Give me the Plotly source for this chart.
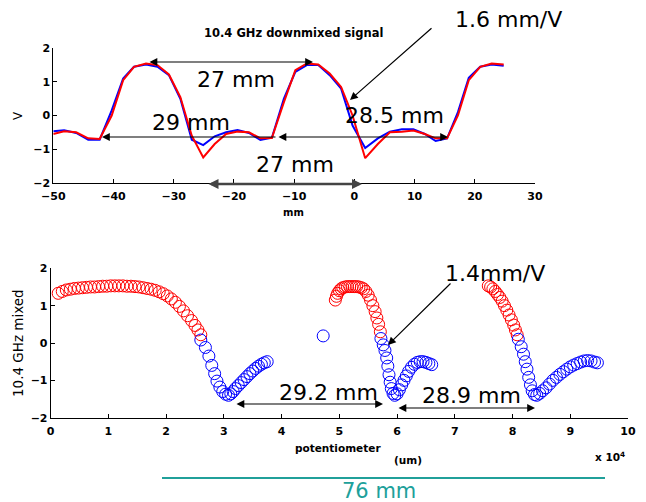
import plotly.graph_objects as go

W, H = 646, 502

# ---------------- top panel data (mm, V) ----------------
top_x = [-50, -48.2, -46.2, -44.2, -42.3, -40.3, -38.4, -36.6, -34.6, -32.7, -30.8, -28.9,
         -27.0, -25.1, -23.2, -21.3, -19.4, -17.5, -15.6, -13.7, -11.7, -9.8, -7.9, -6.0,
         -4.1, -2.2, -0.3, 1.8, 3.9, 5.9, 7.9, 9.8, 11.7, 13.5, 15.4, 17.2, 19.0, 20.9, 22.8, 24.8]
top_blue = [-0.47, -0.44, -0.52, -0.72, -0.72, 0.15, 1.1, 1.45, 1.52, 1.45, 1.2, 0.5,
            -0.72, -0.88, -0.62, -0.5, -0.43, -0.52, -0.73, -0.66, 0.5, 1.3, 1.5, 1.5,
            1.2, 0.8, -0.3, -0.97, -0.68, -0.48, -0.41, -0.41, -0.55, -0.76, -0.68, 0.1, 1.12, 1.45, 1.52, 1.48]
top_red = [-0.55, -0.47, -0.5, -0.68, -0.7, 0.0, 1.05, 1.45, 1.55, 1.5, 1.22, 0.55,
           -0.6, -1.25, -0.85, -0.55, -0.48, -0.5, -0.68, -0.67, 0.4, 1.35, 1.55, 1.52,
           1.25, 0.85, 0.0, -1.27, -0.85, -0.5, -0.48, -0.45, -0.55, -0.68, -0.68, 0.0, 1.05, 1.45, 1.55, 1.52]

# ---------------- bottom panel data (x 1e4 um, V) ----------------
red1_x = [0.13, 0.2, 0.27, 0.34, 0.41, 0.48, 0.55, 0.62, 0.69, 0.76, 0.83, 0.9, 0.97, 1.04, 1.11,
          1.18, 1.25, 1.32, 1.39, 1.46, 1.53, 1.6, 1.67, 1.74, 1.81, 1.88, 1.95, 2.02, 2.09, 2.16,
          2.23, 2.3, 2.37, 2.44, 2.5, 2.55, 2.6]
red1_y = [1.33, 1.38, 1.42, 1.44, 1.46, 1.47, 1.48, 1.49, 1.5, 1.5, 1.51, 1.52, 1.52, 1.53, 1.53,
          1.53, 1.53, 1.52, 1.52, 1.51, 1.5, 1.48, 1.46, 1.44, 1.41, 1.37, 1.32, 1.26, 1.18, 1.09,
          0.98, 0.86, 0.73, 0.6, 0.47, 0.35, 0.22]
blue1_x = [2.6, 2.68, 2.74, 2.79, 2.84, 2.88, 2.93, 2.98, 3.03, 3.08, 3.12, 3.16, 3.2, 3.25, 3.3,
           3.35, 3.4, 3.45, 3.5, 3.55, 3.6, 3.65, 3.7, 3.75]
blue1_y = [0.08, -0.12, -0.35, -0.6, -0.82, -1.02, -1.18, -1.3, -1.37, -1.4, -1.36, -1.3, -1.22,
           -1.14, -1.06, -0.98, -0.9, -0.82, -0.75, -0.68, -0.62, -0.57, -0.53, -0.5]
lone_x = [4.72]
lone_y = [0.19]
red2_x = [4.93, 4.95, 4.97, 5.0, 5.03, 5.06, 5.1, 5.14, 5.18, 5.22, 5.26, 5.3, 5.34, 5.38, 5.42,
          5.46, 5.5, 5.54, 5.58, 5.62, 5.65, 5.68, 5.71]
red2_y = [1.15, 1.25, 1.33, 1.4, 1.45, 1.48, 1.5, 1.51, 1.51, 1.51, 1.51, 1.51, 1.5, 1.48, 1.45,
          1.38, 1.28, 1.15, 1.0, 0.84, 0.67, 0.5, 0.3]
blue2_x = [5.72, 5.76, 5.79, 5.82, 5.84, 5.86, 5.88, 5.9, 5.93, 5.96, 6.0, 6.04, 6.08, 6.12, 6.16,
           6.2, 6.25, 6.3, 6.35, 6.4, 6.45, 6.5, 6.55, 6.6]
blue2_y = [0.12, -0.05, -0.2, -0.4, -0.62, -0.85, -1.05, -1.22, -1.35, -1.4, -1.36, -1.25, -1.12,
           -1.0, -0.88, -0.76, -0.65, -0.57, -0.52, -0.5, -0.5, -0.52, -0.55, -0.58]
red3_x = [7.58, 7.62, 7.66, 7.7, 7.74, 7.78, 7.82, 7.86, 7.9, 7.94, 7.98, 8.02, 8.05, 8.08]
red3_y = [1.53, 1.5, 1.45, 1.38, 1.3, 1.22, 1.12, 1.0, 0.88, 0.75, 0.62, 0.48, 0.35, 0.22]
blue3_x = [8.1, 8.15, 8.19, 8.22, 8.25, 8.28, 8.31, 8.34, 8.38, 8.42, 8.47, 8.52, 8.58, 8.64, 8.7,
           8.76, 8.82, 8.88, 8.94, 9.0, 9.06, 9.12, 9.18, 9.24, 9.3, 9.36, 9.42, 9.47]
blue3_y = [0.1, -0.1, -0.3, -0.5, -0.7, -0.92, -1.12, -1.28, -1.38, -1.4, -1.35, -1.28, -1.2, -1.1,
           -1.0, -0.92, -0.84, -0.77, -0.7, -0.64, -0.59, -0.55, -0.51, -0.48, -0.47, -0.48, -0.51, -0.53]

top_xticks = [-50, -40, -30, -20, -10, 0, 10, 20, 30]
yticks = [-2, -1, 0, 1, 2]
bot_xticks = [0, 1, 2, 3, 4, 5, 6, 7, 8, 9, 10]

FONT = "DejaVu Sans, Verdana, sans-serif"


def px(x):
    return x / W


def py(y):
    return 1 - y / H


fig = go.Figure()
fig.add_trace(go.Scatter(x=top_x, y=top_blue, mode="lines", line=dict(color="#0000ff", width=2),
                         xaxis="x", yaxis="y", showlegend=False))
fig.add_trace(go.Scatter(x=top_x, y=top_red, mode="lines", line=dict(color="#ff0000", width=2),
                         xaxis="x", yaxis="y", showlegend=False))

mk_red = dict(symbol="circle-open", size=12, color="#ff0000", line=dict(width=1, color="#ff0000"))
mk_blue = dict(symbol="circle-open", size=12, color="#0000ff", line=dict(width=1, color="#0000ff"))
for xs, ys, mk in [(red1_x, red1_y, mk_red), (blue1_x, blue1_y, mk_blue), (lone_x, lone_y, mk_blue),
                   (red2_x, red2_y, mk_red), (blue2_x, blue2_y, mk_blue),
                   (red3_x, red3_y, mk_red), (blue3_x, blue3_y, mk_blue)]:
    fig.add_trace(go.Scatter(x=xs, y=ys, mode="markers", marker=mk, xaxis="x2", yaxis="y2",
                             showlegend=False, cliponaxis=False))

axis_common = dict(showline=True, linecolor="black", linewidth=1, ticks="inside", ticklen=4,
                   tickcolor="black", showgrid=False, zeroline=False, mirror=False,
                   automargin=False,
                   tickfont=dict(family=FONT, size=11, color="black", weight="bold"))

fig.update_layout(
    width=W, height=H, margin=dict(l=0, r=0, t=0, b=0, autoexpand=False),
    paper_bgcolor="white", plot_bgcolor="white",
    xaxis=dict(domain=[px(53.3), px(535)], range=[-50, 30], tickvals=top_xticks,
               anchor="y", ticklabelstandoff=3, **axis_common),
    yaxis=dict(domain=[py(182.7), py(48.3)], range=[-2, 2], tickvals=yticks,
               anchor="x", **axis_common),
    xaxis2=dict(domain=[px(50.7), px(628)], range=[0, 10], tickvals=bot_xticks,
                anchor="y2", ticklabelstandoff=3, **axis_common),
    yaxis2=dict(domain=[py(417.7), py(268.3)], range=[-2, 2], tickvals=yticks,
                anchor="x2", **axis_common),
)

annots = []


def text(t, x, y, size, color="black", weight="normal", angle=0):
    annots.append(dict(text=t, x=px(x), y=py(y), xref="paper", yref="paper", showarrow=False,
                       xanchor="center", yanchor="middle", textangle=angle,
                       font=dict(family=FONT, size=size, color=color, weight=weight)))


def arrow(hx, hy, tx, ty, both=False, color="black", width=1.2, size=1.3):
    annots.append(dict(text="", x=px(hx), y=py(hy), xref="paper", yref="paper",
                       ax=tx - hx, ay=ty - hy, axref="pixel", ayref="pixel",
                       showarrow=True, arrowhead=2, arrowsize=size, arrowwidth=width,
                       startarrowhead=2, startarrowsize=size,
                       arrowside="end+start" if both else "end", arrowcolor=color))


# axis labels / titles
text("10.4 GHz downmixed signal", 293, 33, 11.5, weight="bold")
text("V", 18, 116, 12, angle=-90)
text("mm", 293, 212, 10, weight="bold")
text("10.4 GHz mixed", 18, 343, 13.5, angle=-90)
text("potentiometer", 338, 448, 10.5, weight="bold")
text("(um)", 408, 460, 10.5, weight="bold")
text("x 10<sup>4</sup>", 610, 456, 10.5, weight="bold")

# top annotations
text("1.6 mm/V", 508, 20, 22)
arrow(350, 100, 433, 27)
text("27 mm", 236, 80, 22)
arrow(313, 62, 148, 62, both=True)
text("29 mm", 191, 122, 22)
arrow(102, 137, 277, 137)
text("28.5 mm", 395, 115, 22)
arrow(448, 137, 277, 137, both=True)
text("27 mm", 295, 165, 22)
arrow(362, 184, 207, 184, both=True, color="#444444", width=2.5, size=0.8)

# bottom annotations
text("1.4mm/V", 495, 273, 22)
arrow(388, 345, 452, 282)
text("29.2 mm", 328, 392, 22)
arrow(383, 404, 235, 404, both=True)
text("28.9 mm", 471, 395, 22)
arrow(535, 408, 397, 408, both=True)

# 76 mm line and label
fig.add_shape(type="line", xref="paper", yref="paper", x0=px(162), x1=px(605), y0=py(478), y1=py(478),
              line=dict(color="#20a09a", width=2))
text("76 mm", 379, 491, 21, color="#20a09a")

fig.update_layout(annotations=annots)
fig.write_html("out.html")
